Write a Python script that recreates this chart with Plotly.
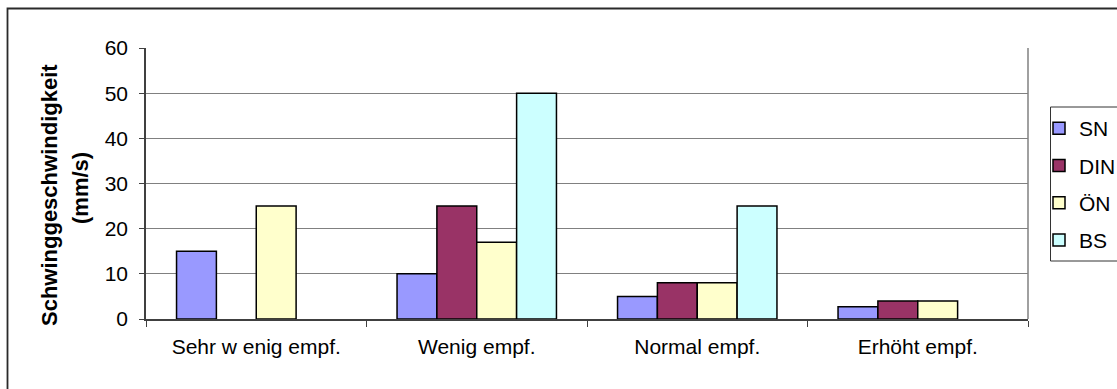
import plotly.graph_objects as go

categories = ["Sehr w enig empf.", "Wenig empf.", "Normal empf.", "Erhöht empf."]
sn = [15, 10, 5, 2.7]
din = [None, 25, 8, 4]
oen = [25, 17, 8, 4]
bs = [None, 50, 25, None]

series = [
    ("SN", sn, "#9999FF"),
    ("DIN", din, "#993366"),
    ("ÖN", oen, "#FFFFCC"),
    ("BS", bs, "#CCFFFF"),
]

FONT = "Liberation Sans, Arial, sans-serif"
W, H = 1117, 389
L, R, T, B = 146, 89, 48, 70
pw, ph = W - L - R, H - T - B


def px_x(p):
    return (p - L) / pw


def px_y(p):
    return (H - B - p) / ph


fig = go.Figure()
for name, vals, color in series:
    fig.add_trace(go.Bar(
        name=name, x=categories, y=vals, legendgroup=name,
        marker=dict(color=color, line=dict(color="black", width=1.5)),
    ))

fig.update_layout(
    width=W, height=H,
    margin=dict(l=L, r=R, t=T, b=B, autoexpand=False),
    paper_bgcolor="white", plot_bgcolor="white",
    font=dict(family=FONT, size=21, color="black"),
    barmode="group", bargap=0.277, bargroupgap=0,
    showlegend=True,
    legend=dict(
        x=px_x(1039), y=px_y(108), xanchor="left", yanchor="top",
        bgcolor="rgba(0,0,0,0)", borderwidth=0,
        traceorder="grouped", tracegroupgap=7,
        font=dict(family=FONT, size=21, color="black"),
    ),
    xaxis=dict(
        type="category", tickson="boundaries",
        showgrid=False, showline=True, linecolor="#404040", linewidth=1.5,
        ticks="outside", ticklen=6, tickcolor="#404040", tickwidth=1,
        ticklabelstandoff=8,
        tickfont=dict(family=FONT, size=21, color="black"),
    ),
    yaxis=dict(
        range=[0, 60], dtick=10, tick0=0,
        showgrid=True, gridcolor="#808080", gridwidth=1,
        showline=True, linecolor="#404040", linewidth=1.5,
        ticks="outside", ticklen=5, tickcolor="#404040", tickwidth=1,
        ticklabelstandoff=7, zeroline=False,
        tickfont=dict(family=FONT, size=21, color="black"),
    ),
    shapes=[
        # right edge of the plot area
        dict(type="line", xref="paper", yref="paper", x0=1, x1=1, y0=0, y1=1,
             line=dict(color="#808080", width=1.5)),
        # legend frame
        dict(type="rect", xref="paper", yref="paper",
             x0=px_x(1050.5), x1=px_x(1140), y0=px_y(261), y1=px_y(107),
             line=dict(color="#333333", width=1)),
        # chart frame
        dict(type="rect", xref="paper", yref="paper",
             x0=px_x(7.5), x1=px_x(1140), y0=px_y(400), y1=px_y(8.5),
             line=dict(color="#2a2a2a", width=1.8)),
    ],
    annotations=[
        dict(text="<b>Schwinggeschwindigkeit</b>", textangle=-90,
             xref="paper", yref="paper", x=px_x(49), y=px_y(195),
             xanchor="center", yanchor="middle", showarrow=False,
             font=dict(family=FONT, size=22, color="black")),
        dict(text="<b>(mm/s)</b>", textangle=-90,
             xref="paper", yref="paper", x=px_x(80), y=px_y(188),
             xanchor="center", yanchor="middle", showarrow=False,
             font=dict(family=FONT, size=22, color="black")),
    ],
)

fig.write_html("out.html")
